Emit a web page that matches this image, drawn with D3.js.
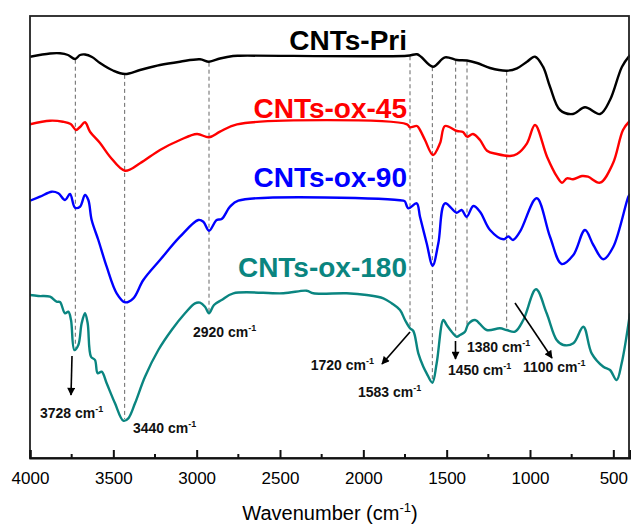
<!DOCTYPE html>
<html>
<head>
<meta charset="utf-8">
<script src="https://cdn.jsdelivr.net/npm/d3@7"></script>
<style>
  body { margin: 0; background: #fff; }
  svg { display: block; font-family: Arial, "Liberation Sans", sans-serif; }
</style>
</head>
<body>
<svg id="chart" width="631" height="524"></svg>
<script>
// FTIR spectra, [wavenumber (cm-1), transmittance (a.u., offset)]
const cntsPri = [
  [4000, 401.3], [3880, 404.5], [3820, 404.7], [3772, 403], [3730, 399], [3700, 403],
  [3670, 403.5], [3628, 401], [3580, 395], [3502, 387.5], [3430, 384], [3340, 388],
  [3220, 393], [3100, 396.3], [2980, 398.7], [2926, 396.3], [2860, 399.5], [2782, 402],
  [2740, 402.3], [1738, 402.3], [1678, 403.7], [1654, 401.3], [1582, 391.3], [1510, 400.7],
  [1438, 398], [1378, 397.5], [1318, 395], [1240, 390], [1138, 387.3], [1078, 389.7],
  [1018, 396.3], [970, 401.3], [922, 391.3], [880, 371.3], [820, 348], [742, 344],
  [670, 350.7], [580, 344], [520, 358], [448, 391.3], [400, 403]
];
const cntsOx45 = [
  [4000, 333.7], [3880, 337.3], [3802, 336.3], [3756, 334], [3724, 328], [3700, 331],
  [3670, 335.7], [3640, 326.3], [3580, 315], [3520, 301.3], [3430, 287.3], [3340, 294.7],
  [3220, 308], [3100, 318], [2998, 324], [2926, 320.7], [2860, 326.3], [2758, 333.7],
  [1738, 333.7], [1720, 330.7], [1678, 332], [1660, 328], [1630, 318], [1582, 303],
  [1540, 314.7], [1510, 332], [1438, 327], [1402, 326], [1378, 321.3], [1342, 324],
  [1300, 318], [1258, 307.3], [1198, 304], [1120, 302], [1078, 304], [1018, 314.7],
  [970, 333], [898, 301.3], [838, 281.3], [808, 275.3], [778, 279.7], [742, 278.7],
  [688, 282], [652, 281.3], [580, 275.3], [502, 294.7], [442, 328], [400, 337.3]
];
const cntsOx90 = [
  [4000, 257.3], [3940, 261.3], [3870, 266.3], [3830, 264.7], [3790, 258], [3760, 264],
  [3730, 250.3], [3700, 251.3], [3670, 263], [3650, 258], [3630, 238], [3590, 218],
  [3540, 191.3], [3480, 164.7], [3430, 155.7], [3380, 159.7], [3320, 178], [3220, 198],
  [3100, 221.3], [2990, 238], [2960, 236.3], [2926, 227.3], [2880, 238], [2850, 239],
  [2800, 251.3], [2750, 257.3], [1760, 257.3], [1750, 256.5], [1730, 249.7], [1680, 254.7],
  [1660, 241.3], [1620, 214.7], [1584, 192.3], [1550, 214.7], [1510, 254.7], [1440, 245.3],
  [1410, 248], [1380, 241.3], [1340, 252], [1300, 246.3], [1240, 228], [1160, 218.7],
  [1130, 221.5], [1102, 218], [1060, 226.3], [960, 259.7], [880, 221.3], [810, 194],
  [740, 203], [670, 228], [620, 213], [560, 198.7], [500, 211.3], [410, 261.3], [400, 264]
];
const cntsOx180 = [
  [4000, 163], [3950, 162], [3880, 161.3], [3840, 156.3], [3820, 156], [3790, 144.7],
  [3770, 146.3], [3754, 138], [3734, 108], [3710, 113], [3690, 134.7], [3670, 144.7],
  [3654, 134.7], [3634, 101.3], [3610, 98], [3594, 84.7], [3570, 86.3], [3540, 74.7],
  [3490, 54.7], [3440, 37.3], [3410, 39.7], [3370, 54.7], [3310, 81.3], [3230, 108],
  [3150, 128], [3070, 144.7], [3010, 154.7], [2980, 155.3], [2950, 151.3], [2926, 144.7],
  [2896, 153], [2850, 158], [2780, 164.7], [2480, 164.7], [2340, 167.3], [2300, 164.7],
  [2100, 164.7], [1980, 163], [1880, 159.7], [1830, 154.7], [1780, 148], [1750, 138],
  [1720, 129.7], [1700, 127], [1670, 104.7], [1640, 91.3], [1620, 84.7], [1586, 75.3],
  [1560, 94.7], [1520, 138], [1500, 133], [1470, 126.3], [1440, 121.3], [1420, 123],
  [1390, 126.3], [1370, 134], [1330, 138], [1260, 128], [1180, 129.7], [1140, 128],
  [1090, 126.3], [1040, 138], [964, 168.7], [900, 144.7], [840, 118], [800, 113],
  [740, 114.7], [680, 131.3], [630, 104.7], [560, 91.3], [520, 88], [480, 78],
  [450, 94.7], [400, 144.7]
];

const seriesNames = ["CNTs-Pri", "CNTs-ox-45", "CNTs-ox-90", "CNTs-ox-180"];
const seriesColors = ["#000000", "#ff0000", "#0000ff", "#0a8580"];
const guideWavenumbers = [3728, 3432, 2926, 1720, 1586, 1446, 1378, 1140];
const peakLabels = ["3728", "3440", "2920", "1720", "1583", "1450", "1380", "1100"];
const xTicks = [4000, 3500, 3000, 2500, 2000, 1500, 1000, 500];
const xMinorTicks = [3750, 3250, 2750, 2250, 1750, 1250, 750];

const svg = d3.select("#chart");
const plot = { left: 30, right: 630, top: 16, bottom: 458 };

const x = d3.scaleLinear().domain([4000, 400]).range([plot.left, plot.right]);
const y = d3.scaleLinear().domain([0, 442]).range([plot.bottom, plot.top]);

const allSeries = [cntsPri, cntsOx45, cntsOx90, cntsOx180];

const defs = svg.append("defs");
defs.append("marker")
    .attr("id", "arrow")
    .attr("viewBox", "0 0 10 10")
    .attr("refX", 9)
    .attr("refY", 5)
    .attr("markerWidth", 9)
    .attr("markerHeight", 8)
    .attr("markerUnits", "userSpaceOnUse")
    .attr("orient", "auto")
  .append("path")
    .attr("d", "M0,0 L10,5 L0,10 z")
    .attr("fill", "#000");

defs.append("clipPath").attr("id", "clip")
  .append("rect")
    .attr("x", plot.left).attr("y", plot.top)
    .attr("width", plot.right - plot.left).attr("height", plot.bottom - plot.top);

// linear lookup used to end the guide lines on the outer curves
function valueAt(series, wn) {
  for (let i = 0; i < series.length - 1; i++) {
    const [w0, v0] = series[i], [w1, v1] = series[i + 1];
    if (wn <= w0 && wn >= w1) return v0 + (v1 - v0) * (w0 - wn) / (w0 - w1);
  }
  return series[series.length - 1][1];
}

// dashed guide lines
svg.append("g").selectAll("line")
  .data(guideWavenumbers)
  .join("line")
    .attr("x1", d => x(d)).attr("x2", d => x(d))
    .attr("y1", d => y(valueAt(cntsPri, d)) + 1)
    .attr("y2", d => y(valueAt(cntsOx180, d)) - 1)
    .attr("stroke", "#666")
    .attr("stroke-width", 1)
    .attr("stroke-dasharray", "4,3");

// spectra
const line = d3.line()
    .x(d => x(d[0]))
    .y(d => y(d[1]))
    .curve(d3.curveCatmullRom.alpha(0.5));

svg.append("g").attr("clip-path", "url(#clip)")
  .selectAll("path")
  .data(allSeries)
  .join("path")
    .attr("d", line)
    .attr("fill", "none")
    .attr("stroke", (d, i) => seriesColors[i])
    .attr("stroke-width", 2.4)
    .attr("stroke-linejoin", "round");

// series names
const nameY = [50, 117.5, 186.5, 276.5];
svg.append("g").selectAll("text")
  .data(seriesNames)
  .join("text")
    .attr("x", 407)
    .attr("y", (d, i) => nameY[i])
    .attr("text-anchor", "end")
    .attr("font-size", 28)
    .attr("font-weight", "bold")
    .attr("fill", (d, i) => seriesColors[i])
    .text(d => d);

// peak annotations
const annoLayout = [
  { x: 40, y: 418, anchor: "start" },
  { x: 133, y: 433, anchor: "start" },
  { x: 193, y: 337, anchor: "start" },
  { x: 374, y: 370, anchor: "end" },
  { x: 358, y: 397, anchor: "start" },
  { x: 448, y: 375, anchor: "start" },
  { x: 467, y: 352, anchor: "start" },
  { x: 523, y: 372, anchor: "start" }
];
const annoText = svg.append("g").selectAll("text")
  .data(peakLabels)
  .join("text")
    .attr("x", (d, i) => annoLayout[i].x)
    .attr("y", (d, i) => annoLayout[i].y)
    .attr("text-anchor", (d, i) => annoLayout[i].anchor)
    .attr("font-size", 14)
    .attr("font-weight", "bold")
    .attr("fill", "#111");
annoText.append("tspan").text(d => d + " cm");
annoText.append("tspan").attr("font-size", 9).attr("dy", -6).text("-1");

const arrows = [
  [72, 356, 71, 395],
  [410, 332, 382, 364],
  [455.5, 341, 455.5, 359],
  [515, 303, 552, 358]
];
svg.append("g").selectAll("line")
  .data(arrows)
  .join("line")
    .attr("x1", d => d[0]).attr("y1", d => d[1])
    .attr("x2", d => d[2]).attr("y2", d => d[3])
    .attr("stroke", "#000")
    .attr("stroke-width", 1.6)
    .attr("marker-end", "url(#arrow)");

// frame
svg.append("rect")
    .attr("x", plot.left).attr("y", plot.top)
    .attr("width", plot.right - 1 - plot.left).attr("height", plot.bottom - plot.top)
    .attr("fill", "none")
    .attr("stroke", "#222")
    .attr("stroke-width", 1.8);

// x axis
const axis = svg.append("g").attr("transform", `translate(0,${plot.bottom})`);
axis.call(d3.axisBottom(x).tickValues(xTicks).tickSize(-8).tickPadding(14).tickFormat(d3.format("d")))
    .call(g => g.select(".domain").attr("stroke-width", 2.2).attr("stroke", "#111"))
    .call(g => g.selectAll(".tick line").attr("stroke-width", 2).attr("stroke", "#111"))
    .call(g => g.selectAll(".tick text")
        .attr("font-size", 17).attr("fill", "#000")
        .attr("font-family", "Arial, 'Liberation Sans', sans-serif"));
axis.selectAll(".minor")
  .data(xMinorTicks)
  .join("line")
    .attr("class", "minor")
    .attr("x1", d => x(d)).attr("x2", d => x(d))
    .attr("y1", 0).attr("y2", -4)
    .attr("stroke", "#111")
    .attr("stroke-width", 2);

const title = svg.append("text")
    .attr("x", (plot.left + plot.right) / 2)
    .attr("y", 520)
    .attr("text-anchor", "middle")
    .attr("font-size", 20)
    .attr("fill", "#000");
title.append("tspan").text("Wavenumber (cm");
title.append("tspan").attr("font-size", 13).attr("dy", -8).text("-1");
title.append("tspan").attr("dy", 8).text(")");
</script>
</body>
</html>
